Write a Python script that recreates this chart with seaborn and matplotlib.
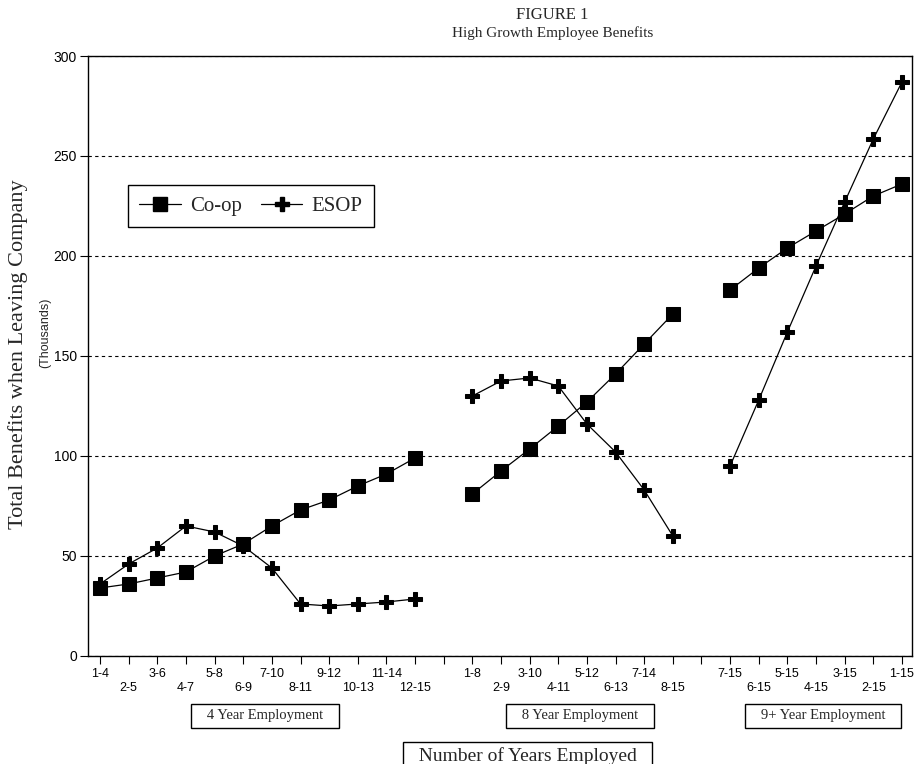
import matplotlib
matplotlib.use("Agg")
import matplotlib.pyplot as plt
import matplotlib.transforms as mtransforms
from matplotlib.lines import Line2D
import pandas as pd
import seaborn as sns

# Data (thousands)
group_names = ['4 Year Employment', '8 Year Employment', '9+ Year Employment']

periods_4 = ['1-4', '2-5', '3-6', '4-7', '5-8', '6-9', '7-10', '8-11', '9-12', '10-13', '11-14', '12-15']
coop_4 = [34, 36, 39, 42, 50, 56, 65, 73, 78, 85, 91, 99]
esop_4 = [36, 46, 54, 65, 62, 55, 44, 26, 25, 26, 27, 28.5]

periods_8 = ['1-8', '2-9', '3-10', '4-11', '5-12', '6-13', '7-14', '8-15']
coop_8 = [81, 92.5, 103.5, 115, 127, 141, 156, 171]
esop_8 = [130, 137.5, 139, 135, 116, 102, 83, 60]

periods_9 = ['7-15', '6-15', '5-15', '4-15', '3-15', '2-15', '1-15']
coop_9 = [183, 194, 204, 212.5, 221, 230, 236]
esop_9 = [95, 128, 162, 195, 227, 258.5, 287]

groups = [
    (group_names[0], periods_4, coop_4, esop_4),
    (group_names[1], periods_8, coop_8, esop_8),
    (group_names[2], periods_9, coop_9, esop_9),
]

# Build long-form table, leaving one empty slot between groups
rows = []
tick_labels = []
group_centers = []
pos = 0
for gi, (gname, periods, coop, esop) in enumerate(groups):
    start = pos
    for i, p in enumerate(periods):
        rows.append({'pos': pos, 'value': coop[i], 'plan': 'Co-op', 'group': gname})
        rows.append({'pos': pos, 'value': esop[i], 'plan': 'ESOP', 'group': gname})
        tick_labels.append(p if i % 2 == 0 else '\n' + p)
        pos += 1
    group_centers.append((start + pos - 1) / 2)
    if gi < len(groups) - 1:
        tick_labels.append('')
        pos += 1
df = pd.DataFrame(rows)

sns.set_style('ticks')
plt.rcParams['font.family'] = ['Liberation Sans', 'DejaVu Sans']
serif = ['Liberation Serif', 'DejaVu Serif']

fig = plt.figure(figsize=(9.16, 7.64), dpi=100)
ax = fig.add_axes([0.0961, 0.1414, 0.8995, 0.7853])

sns.lineplot(data=df, x='pos', y='value', hue='plan', style='plan', units='group',
             estimator=None, markers={'Co-op': 's', 'ESOP': 'P'}, dashes=False,
             palette={'Co-op': 'black', 'ESOP': 'black'}, markersize=10,
             markeredgecolor='black', linewidth=0.9, legend=False, ax=ax)

ax.set_xlim(-0.42, 28.35)
ax.set_ylim(0, 300)
ax.set_yticks(range(0, 301, 50))
ax.set_xticks(range(len(tick_labels)))
ax.set_xticklabels(tick_labels, fontsize=9, linespacing=1.15)
ax.tick_params(axis='y', labelsize=10, pad=2)
ax.tick_params(axis='both', direction='out', length=6, width=0.8, color='black',
               labelcolor='black')
ax.tick_params(axis='x', pad=3)
ax.set_xlabel('')
ax.set_ylabel('')
for s in ax.spines.values():
    s.set_color('black')
    s.set_linewidth(1.0)
ax.yaxis.grid(True, linestyle=(0, (3, 3)), color='black', linewidth=0.8)
ax.xaxis.grid(False)

handles = [
    Line2D([], [], color='black', marker='s', markersize=10, lw=0.9, label='Co-op'),
    Line2D([], [], color='black', marker='P', markersize=10, lw=0.9, label='ESOP'),
]
leg = ax.legend(handles=handles, loc='upper left', bbox_to_anchor=(0.048, 0.785),
                borderaxespad=0, ncol=2, frameon=True, fancybox=False, framealpha=1,
                edgecolor='black', handlelength=2.0, handletextpad=0.45,
                columnspacing=0.9, borderpad=0.55, prop={'family': serif, 'size': 15})
leg.get_frame().set_linewidth(1.0)

# Titles and labels
fig.text(0.603, 0.980, 'FIGURE 1', ha='center', va='center', fontsize=12, family=serif)
fig.text(0.603, 0.957, 'High Growth Employee Benefits', ha='center', va='center',
         fontsize=11, family=serif)
fig.text(0.020, 0.537, 'Total Benefits when Leaving Company', rotation=90,
         ha='center', va='center', fontsize=16, family=serif)
fig.text(0.049, 0.564, '(Thousands)', rotation=90, ha='center', va='center', fontsize=9)

trans = mtransforms.blended_transform_factory(ax.transData, ax.transAxes)
for gname, cx in zip(group_names, group_centers):
    ax.text(cx + 0.25, -0.1, '   ' + gname + '   ', transform=trans, ha='center',
            va='center', fontsize=10.5, family=serif,
            bbox=dict(boxstyle='square,pad=0.35', fc='white', ec='black', lw=1.0))

fig.text(0.576, 0.010, '  Number of Years Employed  ', ha='center', va='center',
         fontsize=14, family=serif,
         bbox=dict(boxstyle='square,pad=0.3', fc='white', ec='black', lw=1.0))

fig.savefig('out.png', dpi=100)
